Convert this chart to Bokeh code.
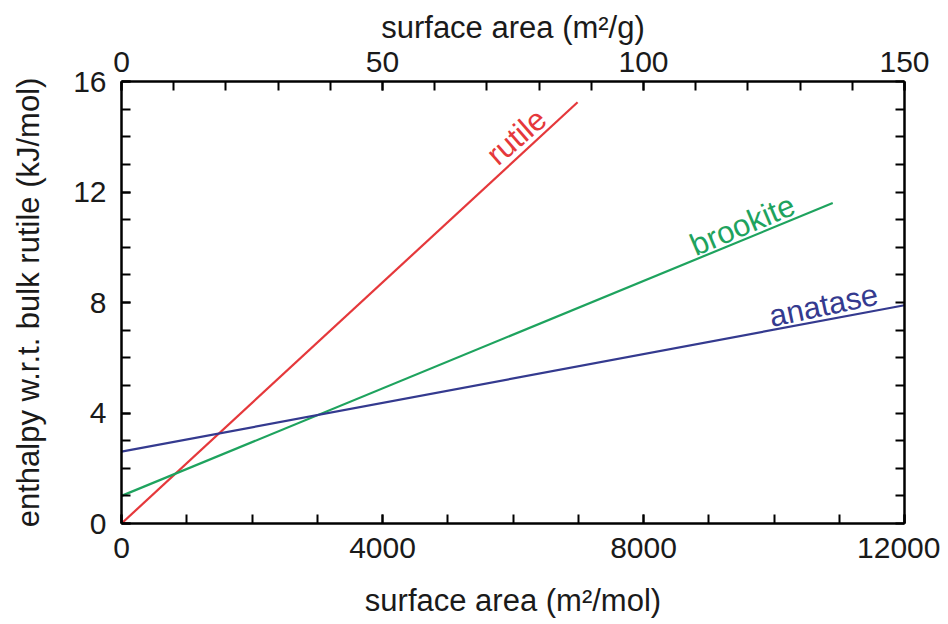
import math
from bokeh.plotting import figure
from bokeh.models import LinearAxis, Range1d, FixedTicker, Label
from bokeh.embed import file_html
from bokeh.resources import INLINE

# ---- data ----
series_names = ["rutile", "brookite", "anatase"]
rutile_x = [0, 6990]
rutile_y = [0.0, 15.25]
brookite_x = [0, 10900]
brookite_y = [1.0, 11.6]
anatase_x = [0, 12000]
anatase_y = [2.6, 7.9]

bottom_ticks = [0, 4000, 8000, 12000]
bottom_minor = [0, 1000, 2000, 3000, 4000, 5000, 6000, 7000, 8000, 9000, 10000, 11000, 12000]
top_ticks = [0, 50, 100, 150]
top_minor = [0, 10, 20, 30, 40, 50, 60, 70, 80, 90, 100, 110, 120, 130, 140, 150]
left_ticks = [0, 4, 8, 12, 16]
left_minor = [0, 1, 2, 3, 4, 5, 6, 7, 8, 9, 10, 11, 12, 13, 14, 15, 16]

RED = "#e5383b"
GREEN = "#1ea35e"
BLUE = "#343a8f"
FONT = "Liberation Sans"

p = figure(width=940, height=620,
           x_range=Range1d(0, 12000), y_range=Range1d(0, 16),
           output_backend="svg", toolbar_location=None,
           min_border_left=121, min_border_right=36,
           min_border_top=81, min_border_bottom=97)
p.extra_x_ranges = {"top": Range1d(0, 150)}
p.grid.visible = False
p.outline_line_color = None
p.background_fill_color = "white"
p.border_fill_color = "white"

bottom_axis = p.below[0]
left_axis = p.left[0]

bottom_axis.ticker = FixedTicker(ticks=bottom_ticks, minor_ticks=bottom_minor)
bottom_axis.axis_label = "surface area (m²/mol)"
left_axis.ticker = FixedTicker(ticks=left_ticks, minor_ticks=left_minor)
left_axis.axis_label = "enthalpy w.r.t. bulk rutile (kJ/mol)"

top_axis = LinearAxis(x_range_name="top",
                      ticker=FixedTicker(ticks=top_ticks, minor_ticks=top_minor),
                      axis_label="surface area (m²/g)")
p.add_layout(top_axis, "above")
right_axis = LinearAxis(ticker=FixedTicker(ticks=[], minor_ticks=left_minor))
p.add_layout(right_axis, "right")

for ax in [bottom_axis, left_axis, top_axis, right_axis]:
    ax.axis_line_color = "black"
    ax.axis_line_width = 2.5
    ax.major_tick_line_color = "black"
    ax.minor_tick_line_color = "black"
    ax.major_tick_line_width = 2
    ax.minor_tick_line_width = 2
    ax.major_tick_in = 9
    ax.major_tick_out = 0
    ax.minor_tick_in = 9
    ax.minor_tick_out = 0
    ax.major_label_text_font = FONT
    ax.major_label_text_font_size = "30px"
    ax.major_label_text_color = "#1a1a1a"
    ax.axis_label_text_font = FONT
    ax.axis_label_text_font_size = "31px"
    ax.axis_label_text_font_style = "normal"
    ax.axis_label_text_color = "#1a1a1a"

bottom_axis.major_label_standoff = 14
bottom_axis.axis_label_standoff = 22
top_axis.major_label_standoff = 10
top_axis.axis_label_standoff = 4
left_axis.major_label_standoff = 15
left_axis.axis_label_standoff = 24

p.line(rutile_x, rutile_y, line_color=RED, line_width=2.2)
p.line(brookite_x, brookite_y, line_color=GREEN, line_width=2.2)
p.line(anatase_x, anatase_y, line_color=BLUE, line_width=2.2)

labels = [
    (series_names[0], 6054, 14.0, 41, RED),
    (series_names[1], 9517, 10.8, 23, GREEN),
    (series_names[2], 10760, 7.9, 12, BLUE),
]
for txt, lx, ly, ang, col in labels:
    p.add_layout(Label(x=lx, y=ly, text=txt, angle=math.radians(ang),
                       text_align="center", text_baseline="middle",
                       text_font=FONT, text_font_size="31px", text_color=col))

open("out.html", "w").write(file_html(p, INLINE))
